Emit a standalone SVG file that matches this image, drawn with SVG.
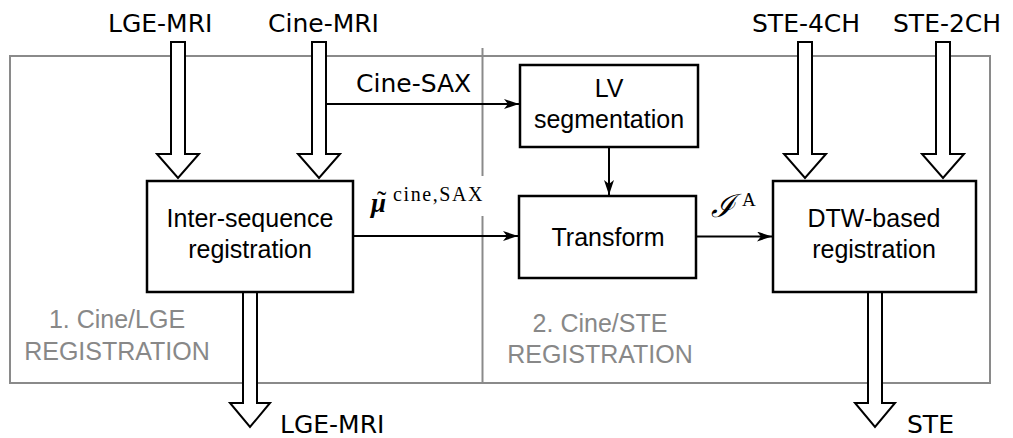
<svg xmlns="http://www.w3.org/2000/svg" width="1013" height="438" viewBox="0 0 1013 438">
<style>
.lbl{font-family:"DejaVu Sans",sans-serif;font-size:25px;fill:#000}
.box{fill:#fff;stroke:#000;stroke-width:2.5}
.bt{font-family:"Liberation Sans",Arial,sans-serif;font-size:25px;fill:#000;text-anchor:middle}
.gt{font-family:"Liberation Sans",Arial,sans-serif;font-size:25px;fill:#888;text-anchor:middle}
.frame{fill:none;stroke:#8a8a8a;stroke-width:2}
.blk{fill:#fff;stroke:#000;stroke-width:2;stroke-linejoin:miter}
.ln{stroke:#000;stroke-width:2;fill:none}
.mth{font-family:"Liberation Serif","Times New Roman",serif;fill:#000}
</style>
<defs>
<marker id="ah" markerUnits="userSpaceOnUse" markerWidth="16" markerHeight="12" refX="15" refY="5" orient="auto">
<path d="M0,0 L15,5 L0,10 L4,5 z" fill="#000"/>
</marker>
</defs>
<rect width="1013" height="438" fill="#fff"/>
<g id="frame">
<rect class="frame" x="10" y="56" width="980" height="327"/>
<line class="frame" x1="482.5" y1="48" x2="482.5" y2="176"/>
<line class="frame" x1="482.5" y1="216" x2="482.5" y2="383"/>
<text class="gt" x="117" y="328">1. Cine/LGE</text>
<text class="gt" x="117" y="360">REGISTRATION</text>
<text class="gt" x="600" y="332">2. Cine/STE</text>
<text class="gt" x="600" y="363">REGISTRATION</text>
</g>
<g id="connectors">
<polygon class="blk" points="171,42 185,42 185,154 199,154 178,178 157,154 171,154"/>
<polygon class="blk" points="312,42 326,42 326,154 340,154 319,178 298,154 312,154"/>
<polygon class="blk" points="798,42 812,42 812,154 826,154 805,178 784,154 798,154"/>
<polygon class="blk" points="936,42 950,42 950,154 964,154 943,178 922,154 936,154"/>
<polygon class="blk" points="243,292 257,292 257,403 270,403 250,427 230,403 243,403"/>
<polygon class="blk" points="868,292 882,292 882,403 895,403 875,427 855,403 868,403"/>
<line class="ln" x1="326" y1="104" x2="519" y2="104" marker-end="url(#ah)"/>
<line class="ln" x1="609" y1="147" x2="609" y2="195" marker-end="url(#ah)"/>
<line class="ln" x1="353" y1="236" x2="518" y2="236" marker-end="url(#ah)"/>
<line class="ln" x1="696" y1="236.5" x2="772" y2="236.5" marker-end="url(#ah)"/>
<text class="lbl" x="356" y="92">Cine-SAX</text>
<text class="mth" x="371" y="212" font-size="27"><tspan font-weight="bold" font-style="italic">μ</tspan><tspan x="377" y="210" font-size="28">˜</tspan><tspan x="393" y="201" font-size="20" letter-spacing="1.6">cine,SAX</tspan></text>
<text x="711" y="217" font-family="'DejaVu Serif',serif" font-size="32" font-style="italic" fill="#000">ℐ<tspan x="742" y="206" font-family="'Liberation Serif',serif" font-size="19" font-style="normal">A</tspan></text>
</g>
<g id="inputs">
<text class="lbl" x="108" y="32">LGE-MRI</text>
<text class="lbl" x="268" y="32">Cine-MRI</text>
<text class="lbl" x="752" y="32">STE-4CH</text>
<text class="lbl" x="893" y="32">STE-2CH</text>
</g>
<g id="outputs">
<text class="lbl" x="280" y="433">LGE-MRI</text>
<text class="lbl" x="907" y="433">STE</text>
</g>
<g id="inter-seq">
<rect class="box" x="147" y="181" width="206" height="111"/>
<text class="bt" x="250" y="227">Inter-sequence</text>
<text class="bt" x="250" y="258">registration</text>
</g>
<g id="lv-seg">
<rect class="box" x="520" y="65" width="178" height="82"/>
<text class="bt" x="609" y="97">LV</text>
<text class="bt" x="609" y="128">segmentation</text>
</g>
<g id="transform">
<rect class="box" x="519" y="196" width="177" height="82"/>
<text class="bt" x="608" y="246">Transform</text>
</g>
<g id="dtw">
<rect class="box" x="773" y="181" width="203" height="111"/>
<text class="bt" x="874" y="227">DTW-based</text>
<text class="bt" x="874" y="258">registration</text>
</g>
</svg>
